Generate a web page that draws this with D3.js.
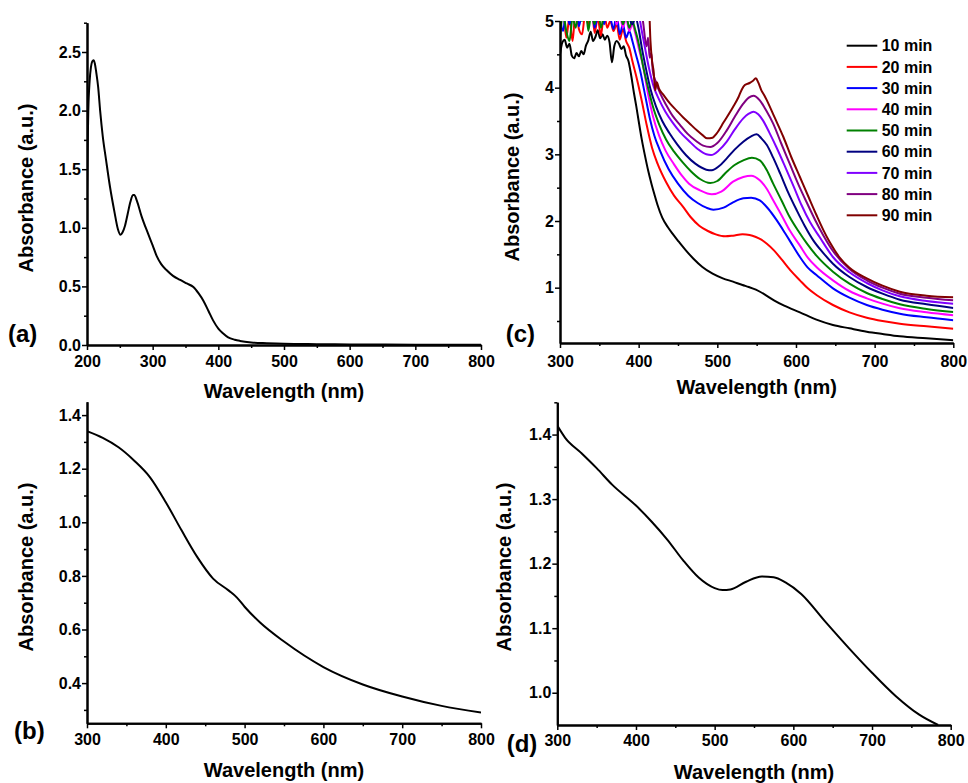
<!DOCTYPE html>
<html><head><meta charset="utf-8">
<script src="https://cdn.jsdelivr.net/npm/d3@7"></script>
<style>
body{margin:0;background:#fff}
text{font-family:"Liberation Sans",Arial,Helvetica,sans-serif;font-weight:bold;fill:#000}
</style>
</head><body>
<svg id="chart" width="968" height="783"></svg>
<script>
// ---------- DATA ----------
// Panel (a)
const wlA  = [200,201,202,204,206,208,210,212,214,217,220,224,229,235,242,247,251,254,258,262,266,270,272,276,283,293,300,306,313,321,331,342,352,362,370,377,385,392,400,407,415,425,433,450,474,500,550,600,700,800];
const absA = [1.30,1.70,2.00,2.25,2.37,2.42,2.43,2.40,2.33,2.20,2.00,1.78,1.58,1.35,1.13,0.99,0.94,0.96,1.02,1.12,1.22,1.28,1.28,1.23,1.10,0.95,0.85,0.76,0.69,0.64,0.59,0.555,0.525,0.495,0.44,0.38,0.29,0.21,0.14,0.10,0.065,0.045,0.035,0.022,0.015,0.01,0.007,0.005,0.003,0.002];

// Panel (b)
const wlB  = [300,320,340,360,380,400,420,440,460,480,490,500,520,550,600,650,700,750,800];
const absB = [1.34,1.315,1.28,1.23,1.168,1.075,0.97,0.87,0.79,0.745,0.72,0.685,0.625,0.555,0.46,0.395,0.35,0.315,0.29];

// Panel (d)
const wlD  = [300,310,330,350,370,400,420,440,460,480,500,510,520,540,560,575,590,610,640,670,700,730,760,784];
const absD = [1.414,1.395,1.372,1.348,1.322,1.290,1.265,1.237,1.205,1.178,1.162,1.159,1.160,1.172,1.180,1.179,1.171,1.153,1.111,1.070,1.031,0.995,0.966,0.950];

// Panel (c) : [wavelength, absorbance] per reaction time
const min10 = [[300,4.50],[303,4.68],[306,4.72],[309,4.60],[312,4.66],[315,4.48],[318,4.44],[321,4.52],[324,4.47],[327,4.55],[330,4.50],[333,4.63],[336,4.71],[339,4.84],[342,4.70],[345,4.76],[348,4.86],[351,4.74],[354,4.80],[357,4.72],[360,4.78],[363,4.68],[366,4.38],[369,4.62],[372,4.70],[375,4.66],[378,4.58],[381,4.62],[384,4.48],[387,4.40],[390,4.22],
  [394,3.92],[397,3.72],[400,3.50],[404,3.22],[408,2.98],[412,2.76],[416,2.57],[420,2.40],[424,2.24],[430,2.05],[437,1.91],[443,1.81],[451,1.69],[460,1.56],[470,1.43],[481,1.31],[494,1.21],[507,1.14],[520,1.09],[532,1.04],[540,1.01],[549,0.97],[560,0.90],[572,0.81],[585,0.73],[605,0.63],[626,0.52],[647,0.44],[668,0.39],[690,0.34],[710,0.305],[732,0.27],[766,0.24],[800,0.21]];
const min20 = [[300,4.92],[304,5.15],[308,4.75],[312,5.05],[316,4.70],[320,5.20],[324,4.88],[328,4.80],[332,5.10],[336,4.95],[340,5.25],[344,4.82],[348,5.05],[352,4.78],[356,5.12],[360,4.90],[364,5.00],[368,4.85],[372,4.95],[376,4.72],[380,4.88],[384,4.70],[388,4.60],
  [392,4.40],[398,4.12],[404,3.80],[410,3.45],[417,3.10],[424,2.86],[435,2.58],[445,2.38],[456,2.22],[466,2.06],[477,1.93],[488,1.85],[498,1.80],[510,1.77],[520,1.78],[532,1.80],[541,1.79],[549,1.76],[556,1.72],[563,1.66],[572,1.56],[582,1.42],[593,1.26],[605,1.11],[615,0.99],[626,0.89],[647,0.74],[668,0.63],[690,0.55],[710,0.50],[732,0.46],[766,0.42],[800,0.385]];
const min30 = [[300,5.05],[304,4.85],[308,5.20],[312,4.95],[316,5.10],[320,5.30],[324,4.92],[328,5.15],[332,5.25],[336,5.05],[340,5.20],[344,4.90],[348,5.10],[352,5.30],[356,4.95],[360,5.18],[364,5.05],[368,4.88],[372,5.10],[376,4.80],[380,4.95],[384,4.75],[388,4.85],
  [392,4.70],[396,4.52],[402,4.25],[408,3.90],[414,3.55],[420,3.28],[427,3.06],[438,2.78],[450,2.56],[463,2.38],[475,2.27],[486,2.20],[495,2.17],[508,2.20],[520,2.28],[533,2.34],[543,2.35],[554,2.31],[565,2.18],[575,2.02],[586,1.82],[597,1.61],[605,1.46],[615,1.30],[626,1.19],[647,0.99],[668,0.85],[690,0.74],[710,0.67],[732,0.61],[766,0.555],[800,0.51]];
const min40 = [[300,5.25],[304,5.10],[308,5.35],[312,5.20],[316,5.40],[320,5.15],[324,5.30],[328,5.25],[332,5.45],[336,5.20],[340,5.35],[344,5.10],[348,5.30],[352,5.40],[356,5.15],[360,5.25],[364,5.05],[368,5.20],[372,4.95],[376,5.10],[380,4.90],[384,5.05],[388,4.85],
  [392,4.95],[396,4.80],[400,4.60],[406,4.30],[412,3.90],[418,3.58],[426,3.28],[434,3.06],[445,2.85],[455,2.68],[464,2.56],[478,2.46],[493,2.40],[505,2.44],[520,2.59],[533,2.66],[543,2.68],[554,2.61],[563,2.48],[571,2.31],[582,2.08],[592,1.86],[605,1.63],[615,1.45],[626,1.31],[647,1.11],[668,0.95],[690,0.84],[710,0.76],[732,0.69],[766,0.63],[800,0.585]];
const min50 = [[300,4.75],[304,5.10],[308,4.85],[312,4.70],[316,5.05],[320,4.90],[324,5.20],[328,5.00],[332,5.30],[336,4.85],[340,5.15],[344,4.95],[348,5.25],[352,4.90],[356,5.10],[360,5.30],[364,5.05],[368,5.20],[372,5.00],[376,5.15],[380,4.95],[384,5.10],[388,4.90],
  [392,5.00],[396,4.85],[399,4.72],[402,4.55],[406,4.30],[412,4.00],[418,3.72],[426,3.45],[435,3.22],[445,3.04],[456,2.88],[467,2.74],[478,2.63],[491,2.57],[500,2.60],[512,2.74],[522,2.84],[533,2.91],[544,2.95],[554,2.91],[563,2.76],[571,2.56],[582,2.30],[592,2.06],[603,1.85],[614,1.66],[626,1.48],[647,1.24],[668,1.06],[690,0.92],[710,0.83],[732,0.75],[766,0.68],[800,0.635]];
const min60 = [[300,5.30],[304,5.45],[308,5.25],[312,5.50],[316,5.35],[320,5.40],[324,5.30],[328,5.55],[332,5.40],[336,5.35],[340,5.50],[344,5.30],[348,5.45],[352,5.35],[356,5.25],[360,5.40],[364,5.20],[368,5.35],[372,5.15],[376,5.25],[380,5.10],[384,5.20],[388,5.05],
  [392,4.95],[396,5.05],[400,4.88],[404,4.60],[409,4.30],[415,3.98],[422,3.72],[430,3.50],[439,3.32],[449,3.15],[460,2.99],[472,2.86],[486,2.77],[493,2.76],[502,2.82],[512,2.94],[522,3.07],[533,3.19],[543,3.27],[550,3.30],[556,3.24],[563,3.14],[571,2.95],[580,2.71],[590,2.43],[601,2.16],[611,1.93],[622,1.71],[634,1.53],[647,1.36],[668,1.16],[690,1.01],[710,0.91],[732,0.82],[766,0.75],[800,0.695]];
const min70 = [[300,5.45],[310,5.60],[320,5.40],[330,5.55],[340,5.50],[350,5.65],[360,5.45],[370,5.50],[380,5.35],[388,5.25],[392,5.15],[396,5.20],
  [400,5.10],[404,4.85],[408,4.60],[413,4.30],[419,4.02],[426,3.82],[434,3.64],[443,3.48],[453,3.33],[464,3.20],[475,3.08],[486,3.00],[492,2.99],[502,3.06],[512,3.19],[522,3.37],[533,3.54],[540,3.61],[546,3.64],[552,3.60],[558,3.51],[566,3.33],[575,3.11],[586,2.82],[597,2.52],[607,2.24],[618,1.98],[630,1.76],[647,1.46],[668,1.23],[690,1.07],[710,0.96],[732,0.87],[766,0.80],[800,0.76]];
const min80 = [[300,5.60],[320,5.70],[340,5.55],[360,5.65],[380,5.50],[395,5.45],[402,5.30],
  [406,4.95],[410,4.62],[412,4.75],[414,4.45],[416,4.52],[418,4.25],[422,4.08],[428,3.90],[435,3.74],[443,3.58],[452,3.45],[462,3.31],[473,3.20],[482,3.13],[491,3.11],[500,3.17],[512,3.36],[522,3.56],[533,3.76],[540,3.85],[546,3.88],[554,3.81],[562,3.66],[571,3.46],[581,3.17],[592,2.86],[603,2.55],[614,2.27],[625,2.00],[635,1.78],[647,1.55],[668,1.28],[690,1.11],[710,1.00],[732,0.91],[766,0.85],[800,0.81]];
const min90 = [[300,5.80],[340,5.80],[380,5.80],[405,5.70],[411,5.50],
  [413,5.30],[415,4.70],[417,4.40],[419,4.25],[421,3.96],[423,4.08],[426,3.98],[431,3.90],[440,3.76],[448,3.66],[457,3.55],[465,3.46],[474,3.36],[482,3.28],[487,3.24],[494,3.25],[499,3.31],[508,3.48],[520,3.71],[527,3.86],[531,3.97],[535,4.04],[541,4.07],[545,4.10],[549,4.14],[552,4.08],[556,3.96],[560,3.88],[563,3.81],[573,3.55],[584,3.26],[594,2.96],[605,2.66],[616,2.36],[626,2.09],[635,1.86],[643,1.68],[655,1.46],[668,1.30],[690,1.14],[710,1.03],[732,0.94],[766,0.88],[800,0.855]];

const legendLabels = ["10 min","20 min","30 min","40 min","50 min","60 min","70 min","80 min","90 min"];
const legendColors = ["#000000","#ff0000","#0000ff","#ff00ff","#008000","#000080","#8000ff","#800080","#800000"];
const seriesC = [min10,min20,min30,min40,min50,min60,min70,min80,min90];

const xTicksA = [200,300,400,500,600,700,800], xMinorA = [250,350,450,550,650,750];
const yTicksA = [0,0.5,1.0,1.5,2.0,2.5],        yMinorA = [0.25,0.75,1.25,1.75,2.25,2.75];
const xTicks = [300,400,500,600,700,800],        xMinor = [350,450,550,650,750];
const yTicksB = [0.4,0.6,0.8,1.0,1.2,1.4],       yMinorB = [0.3,0.5,0.7,0.9,1.1,1.3];
const yTicksC = [1,2,3,4,5],                     yMinorC = [0.5,1.5,2.5,3.5,4.5];
const yTicksD = [1.0,1.1,1.2,1.3,1.4],           yMinorD = [1.05,1.15,1.25,1.35,1.45];

// ---------- DRAW ----------
const svg = d3.select("#chart");
svg.append("rect").attr("width",968).attr("height",783).attr("fill","#fff");

function panel(o){
  const x = d3.scaleLinear().domain(o.xDomain).range([o.left,o.right]);
  const y = d3.scaleLinear().domain(o.yDomain).range([o.bottom,o.top]);
  const g = svg.append("g");
  const clipId = "clip-"+o.name;
  svg.append("clipPath").attr("id",clipId).append("rect")
    .attr("x",o.left).attr("y",o.top).attr("width",o.right-o.left).attr("height",o.bottom-o.top);
  const line = d3.line().x(d=>x(d[0])).y(d=>y(d[1])).curve(d3.curveMonotoneX);
  o.series.forEach(s=>{
    g.append("path").attr("d",line(s.data)).attr("fill","none")
      .attr("stroke",s.color).attr("stroke-width",2).attr("stroke-linejoin","round")
      .attr("clip-path",`url(#${clipId})`);
  });
  // minor ticks
  g.append("g").attr("transform",`translate(0,${o.bottom})`)
    .call(d3.axisBottom(x).tickValues(o.xMinor).tickSize(3).tickSizeOuter(0).tickFormat(""));
  g.append("g").attr("transform",`translate(${o.left},0)`)
    .call(d3.axisLeft(y).tickValues(o.yMinor).tickSize(3).tickSizeOuter(0).tickFormat(""));
  // major
  g.append("g").attr("transform",`translate(0,${o.bottom})`)
    .call(d3.axisBottom(x).tickValues(o.xMajor).tickSize(5).tickSizeOuter(0).tickPadding(o.xPad).tickFormat(d3.format("d")));
  g.append("g").attr("transform",`translate(${o.left},0)`)
    .call(d3.axisLeft(y).tickValues(o.yMajor).tickSize(5).tickSizeOuter(0).tickPadding(1).tickFormat(d3.format(o.yFmt)));
  g.selectAll(".domain").attr("stroke","#000").attr("stroke-width",2);
  g.selectAll(".tick line").attr("stroke","#000").attr("stroke-width",1.5);
  g.selectAll(".tick text").style("font-size","16px").style("font-family","'Liberation Sans',Arial,sans-serif").style("font-weight","bold").attr("fill","#000");
  // titles
  g.append("text").attr("x",(o.left+o.right)/2).attr("y",o.xTitleY).attr("text-anchor","middle")
    .style("font-size","20px").text("Wavelength (nm)");
  g.append("text").attr("transform",`translate(${o.yTitleX},${o.yTitleY}) rotate(-90)`).attr("text-anchor","middle")
    .style("font-size","20px").text("Absorbance (a.u.)");
  g.append("text").attr("x",o.labX).attr("y",o.labY).style("font-size","24px").text(o.label);
  return {x,y,g};
}

panel({name:"a",xDomain:[200,800],yDomain:[0,2.75],left:87,right:481,top:22.7,bottom:345,
  xMajor:xTicksA,xMinor:xMinorA,yMajor:yTicksA,yMinor:yMinorA,yFmt:".1f",xPad:6,
  xTitleY:397.6,yTitleX:32.6,yTitleY:188,labX:8,labY:342,label:"(a)",
  series:[{data:wlA.map((w,i)=>[w,absA[i]]),color:"#000"}]});

panel({name:"b",xDomain:[300,800],yDomain:[0.25,1.45],left:87,right:481,top:401.7,bottom:723.3,
  xMajor:xTicks,xMinor:xMinor,yMajor:yTicksB,yMinor:yMinorB,yFmt:".1f",xPad:5,
  xTitleY:777,yTitleX:32.6,yTitleY:567,labX:14,labY:739,label:"(b)",
  series:[{data:wlB.map((w,i)=>[w,absB[i]]),color:"#000"}]});

panel({name:"c",xDomain:[300,800],yDomain:[0.17,5],left:560,right:953.3,top:21,bottom:343,
  xMajor:xTicks,xMinor:xMinor,yMajor:yTicksC,yMinor:yMinorC,yFmt:"d",xPad:8,
  xTitleY:394.3,yTitleX:519.3,yTitleY:177,labX:505.7,labY:342,label:"(c)",
  series:seriesC.map((s,i)=>({data:s,color:legendColors[i]}))});

panel({name:"d",xDomain:[300,800],yDomain:[0.95,1.45],left:557.3,right:950.7,top:402.3,bottom:725,
  xMajor:xTicks,xMinor:xMinor,yMajor:yTicksD,yMinor:yMinorD,yFmt:".1f",xPad:5,
  xTitleY:779.3,yTitleX:511,yTitleY:567,labX:506.7,labY:752,label:"(d)",
  series:[{data:wlD.map((w,i)=>[w,absD[i]]),color:"#000"}]});

// legend (c)
const lg = svg.append("g");
legendLabels.forEach((lab,i)=>{
  const yy = 45.7 + i*21.2;
  lg.append("line").attr("x1",846.7).attr("x2",877.3).attr("y1",yy).attr("y2",yy)
    .attr("stroke",legendColors[i]).attr("stroke-width",2);
  lg.append("text").attr("x",881.7).attr("y",yy+5.6).style("font-size","16px").text(lab);
});
</script>
</body></html>
